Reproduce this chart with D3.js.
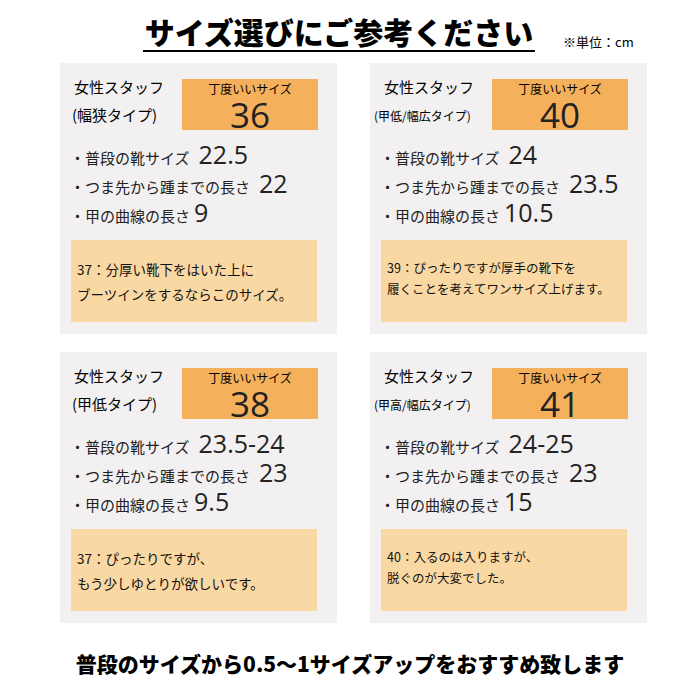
<!DOCTYPE html><html><head><meta charset="utf-8"><script src="https://cdn.jsdelivr.net/npm/d3@7"></script>
<style>body{margin:0;background:#fff}</style></head><body><svg id="c" width="700" height="700"></svg>
<script>
const types=["(幅狭タイプ)","(甲低/幅広タイプ)","(甲低タイプ)","(甲高/幅広タイプ)"];
const fitSizes=["36","40","38","41"];
const usualSizes=["22.5","24","23.5-24","24-25"];
const toeHeel=["22","23.5","23","23"];
const instep=["9","10.5","9.5","15"];
const notes=[["37：分厚い靴下をはいた上に","ブーツインをするならこのサイズ。"],["39：ぴったりですが厚手の靴下を","履くことを考えてワンサイズ上げます。"],["37：ぴったりですが、","もう少しゆとりが欲しいです。"],["40：入るのは入りますが、","脱ぐのが大変でした。"]];
const labels=["・普段の靴サイズ","・つま先から踵までの長さ","・甲の曲線の長さ"];
const F="'Noto Sans CJK JP','Noto Sans',sans-serif";
const svg=d3.select("#c");
svg.append("text").attr("x",339).attr("y",44).attr("text-anchor","middle").attr("font-family",F).attr("font-weight",900).attr("font-size",30).text("サイズ選びにご参考ください");
svg.append("line").attr("x1",143).attr("x2",535).attr("y1",51).attr("y2",51).attr("stroke","#000").attr("stroke-width",2);
svg.append("text").attr("x",563).attr("y",47).attr("font-family",F).attr("font-size",13).text("※単位：cm");
const px=d3.scaleOrdinal().domain([0,1]).range([60,370]);
const py=d3.scaleOrdinal().domain([0,1]).range([63,352]);
types.forEach((t,i)=>{
 const g=svg.append("g").attr("transform",`translate(${px(i%2)},${py(Math.floor(i/2))})`);
 g.append("rect").attr("width",277).attr("height",271).attr("fill","#f2f0f1");
 g.append("text").attr("x",14).attr("y",30).attr("font-family",F).attr("font-size",15).text("女性スタッフ");
 g.append("text").attr("x",i%2?4:12).attr("y",58).attr("font-family",F).attr("font-size",i%2?12:15).text(t);
 g.append("rect").attr("x",122).attr("y",16).attr("width",136).attr("height",51).attr("fill","#f5b05b");
 g.append("text").attr("x",190).attr("y",31).attr("text-anchor","middle").attr("font-family",F).attr("font-size",12).text("丁度いいサイズ");
 g.append("text").attr("x",190).attr("y",65).attr("text-anchor","middle").attr("font-family","'Open Sans',sans-serif").attr("font-size",35).attr("fill","#222").text(fitSizes[i]);
 const vals=[usualSizes[i],toeHeel[i],instep[i]];
 labels.forEach((l,j)=>{
  const tx=g.append("text").attr("x",10).attr("y",101+j*29).attr("font-family",F).attr("font-size",15).attr("fill","#222");
  tx.append("tspan").text(l);
  tx.append("tspan").attr("dx",j==2?4:9).attr("font-family","'Open Sans',sans-serif").attr("font-size",25).text(vals[j]);
 });
 g.append("rect").attr("x",11).attr("y",177).attr("width",246).attr("height",82).attr("fill","#fad8a3");
 notes[i].forEach((n,k)=>g.append("text").attr("x",17).attr("y",i%2?210+k*21:212+k*25).attr("font-family",F).attr("font-size",i%2?12.5:13.5).attr("fill","#111").text(n));
});
svg.append("text").attr("x",350).attr("y",672).attr("text-anchor","middle").attr("font-family",F).attr("font-weight",900).attr("font-size",21).text("普段のサイズから0.5～1サイズアップをおすすめ致します");
</script></body></html>
